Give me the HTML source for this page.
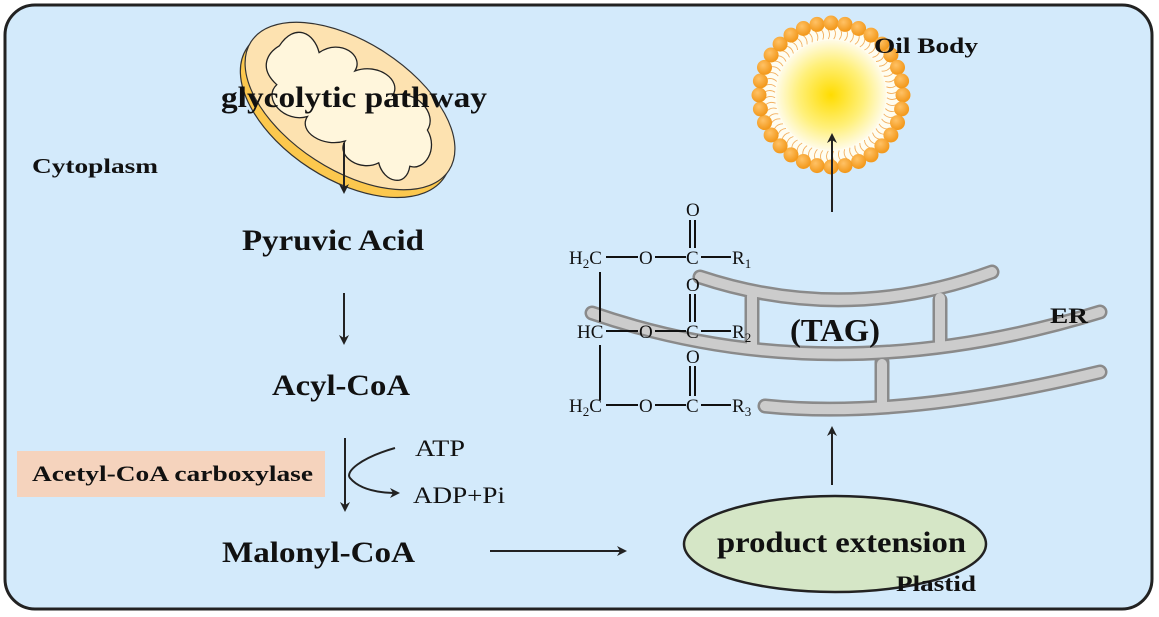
<!DOCTYPE html>
<html><head><meta charset="utf-8"><style>
html,body{margin:0;padding:0;background:#fff;}
svg{display:block;}
text{font-family:"Liberation Serif",serif;fill:#111;}
.b{font-weight:bold;}
</style></head><body>
<svg id="s" width="1159" height="617" viewBox="0 0 1159 617" xmlns="http://www.w3.org/2000/svg">
<defs>
<radialGradient id="sun" cx="0.5" cy="0.5" r="0.5">
<stop offset="0" stop-color="#ffdc00"/><stop offset="0.6" stop-color="#fff07a"/><stop offset="1" stop-color="#fffbe6"/>
</radialGradient>
<radialGradient id="bead" cx="0.4" cy="0.35" r="0.6">
<stop offset="0" stop-color="#ffc266"/><stop offset="1" stop-color="#f39a1e"/>
</radialGradient>
<marker id="ar" markerWidth="10" markerHeight="10" refX="8" refY="5" orient="auto" markerUnits="userSpaceOnUse">
<path d="M0,0 L10,5 L0,10 L3,5 Z" fill="#222"/>
</marker>
</defs>
<rect x="5" y="5" width="1147" height="604" rx="30" fill="#d3eafb" stroke="#222" stroke-width="3"/>

<!-- mitochondrion -->
<g transform="translate(350,106) rotate(33)">
<ellipse cx="0" cy="8" rx="118" ry="66" fill="#fcc84e" stroke="#333" stroke-width="1.2"/>
<ellipse cx="0" cy="0" rx="118" ry="64" fill="#fde2b0" stroke="#333" stroke-width="1.2"/>
<path d="M-92,-12 C-92,-40 -70,-42 -55,-28 C-45,-52 -15,-50 -15,-32 C0,-52 30,-50 30,-32 C45,-50 78,-42 78,-22 C98,-12 98,14 83,18 C92,38 70,46 55,32 C45,50 15,50 15,32 C0,50 -30,50 -30,32 C-45,50 -78,42 -73,22 C-98,18 -98,0 -92,-12 Z" fill="#fff6dc" stroke="#222" stroke-width="1.3"/>
</g>

<g id="oil"></g>

<!-- ER -->
<g fill="none" stroke-linecap="round">
<g stroke="#8a8a8a" stroke-width="15">
<path d="M700,277 Q845,325 992,272"/>
<path d="M592,313 Q830,395 1100,312"/>
<path d="M765,406 Q900,420 1100,372"/>
<path d="M752,298 L752,345"/><path d="M940,300 L940,342"/><path d="M882,362 L882,406"/>
</g>
<g stroke="#cccccc" stroke-width="10">
<path d="M700,277 Q845,325 992,272"/>
<path d="M592,313 Q830,395 1100,312"/>
<path d="M765,406 Q900,420 1100,372"/>
<path d="M752,296 L752,345"/><path d="M940,298 L940,342"/><path d="M882,364 L882,404"/>
</g>
</g>

<!-- TAG structure -->
<g stroke="#111" stroke-width="2" fill="none">
<path d="M606,257 L638,257 M655,257 L686,257 M701,257 L731,257"/>
<path d="M606,331 L638,331 M655,331 L686,331 M701,331 L731,331"/>
<path d="M606,405 L638,405 M655,405 L686,405 M701,405 L731,405"/>
<path d="M600,272 L600,322 M600,345 L600,400"/>
<path d="M690,220 L690,248 M695,220 L695,248 M690,294 L690,322 M695,294 L695,322 M690,366 L690,396 M695,366 L695,396"/>
</g>
<g font-size="19">
<text x="569" y="264">H<tspan font-size="13" dy="4">2</tspan><tspan dy="-4">C</tspan></text>
<text x="639" y="264">O</text><text x="686" y="264">C</text>
<text x="732" y="264">R<tspan font-size="13" dy="4">1</tspan></text>
<text x="686" y="216">O</text>
<text x="577" y="338">HC</text>
<text x="639" y="338">O</text><text x="686" y="338">C</text>
<text x="732" y="338">R<tspan font-size="13" dy="4">2</tspan></text>
<text x="686" y="291">O</text>
<text x="569" y="412">H<tspan font-size="13" dy="4">2</tspan><tspan dy="-4">C</tspan></text>
<text x="639" y="412">O</text><text x="686" y="412">C</text>
<text x="732" y="412">R<tspan font-size="13" dy="4">3</tspan></text>
<text x="686" y="363">O</text>
</g>

<!-- plastid -->
<ellipse cx="835" cy="544" rx="151" ry="48" fill="#d5e6c6" stroke="#222" stroke-width="2.5"/>

<!-- arrows -->
<g stroke="#222" stroke-width="2" fill="none" marker-end="url(#ar)">
<path d="M344,143 L344,192"/>
<path d="M344,293 L344,343"/>
<path d="M345,438 L345,510"/>
<path d="M395,448 C360,458 345,472 350,478 C360,490 380,493 398,493"/>
<path d="M490,551 L625,551"/>
<path d="M832,485 L832,428"/>
<path d="M832,212 L832,135"/>
</g>

<rect x="17" y="451" width="308" height="46" fill="#f5d3bd"/>
<text class="b" x="32" y="173" font-size="21" textLength="126" lengthAdjust="spacingAndGlyphs">Cytoplasm</text>
<text class="b" x="221" y="107" font-size="30" textLength="266" lengthAdjust="spacingAndGlyphs">glycolytic pathway</text>
<text class="b" x="242" y="250" font-size="30" textLength="182" lengthAdjust="spacingAndGlyphs">Pyruvic Acid</text>
<text class="b" x="272" y="395" font-size="30" textLength="138" lengthAdjust="spacingAndGlyphs">Acyl-CoA</text>
<text class="b" x="32" y="481" font-size="22" textLength="281" lengthAdjust="spacingAndGlyphs">Acetyl-CoA carboxylase</text>
<text x="415" y="456" font-size="23" textLength="50" lengthAdjust="spacingAndGlyphs">ATP</text>
<text x="413" y="503" font-size="23" textLength="92" lengthAdjust="spacingAndGlyphs">ADP+Pi</text>
<text class="b" x="222" y="562" font-size="30" textLength="193" lengthAdjust="spacingAndGlyphs">Malonyl-CoA</text>
<text class="b" x="717" y="552" font-size="30" textLength="249" lengthAdjust="spacingAndGlyphs">product extension</text>
<text class="b" x="896" y="591" font-size="22" textLength="80" lengthAdjust="spacingAndGlyphs">Plastid</text>
<text class="b" x="874" y="53" font-size="22" textLength="104" lengthAdjust="spacingAndGlyphs">Oil Body</text>
<text class="b" x="1050" y="323" font-size="22" textLength="38" lengthAdjust="spacingAndGlyphs">ER</text>
<text class="b" x="790" y="341" font-size="32" textLength="90" lengthAdjust="spacingAndGlyphs">(TAG)</text>
</svg>
<script>
(function(){
var g=document.getElementById('oil'),cx=831,cy=95,h='';
h+='<circle cx="'+cx+'" cy="'+cy+'" r="70" fill="#fffdf0"/>';
h+='<circle cx="'+cx+'" cy="'+cy+'" r="55" fill="url(#sun)"/>';
var n=32;
for(var i=0;i<n*2;i++){var a=(i+0.5)*Math.PI/n,c=Math.cos(a),s=Math.sin(a);
var x1=cx+c*56,y1=cy+s*56,x2=cx+c*66,y2=cy+s*66;
h+='<path d="M'+x1.toFixed(1)+','+y1.toFixed(1)+' Q'+(cx+c*61-s*3).toFixed(1)+','+(cy+s*61+c*3).toFixed(1)+' '+x2.toFixed(1)+','+y2.toFixed(1)+'" stroke="#f2b060" stroke-width="0.9" fill="none"/>';}
for(var i=0;i<n;i++){var a=i*2*Math.PI/n;
h+='<circle cx="'+(cx+Math.cos(a)*72).toFixed(1)+'" cy="'+(cy+Math.sin(a)*72).toFixed(1)+'" r="7.5" fill="url(#bead)"/>';}
g.innerHTML=h;
})();
</script>
</body></html>
